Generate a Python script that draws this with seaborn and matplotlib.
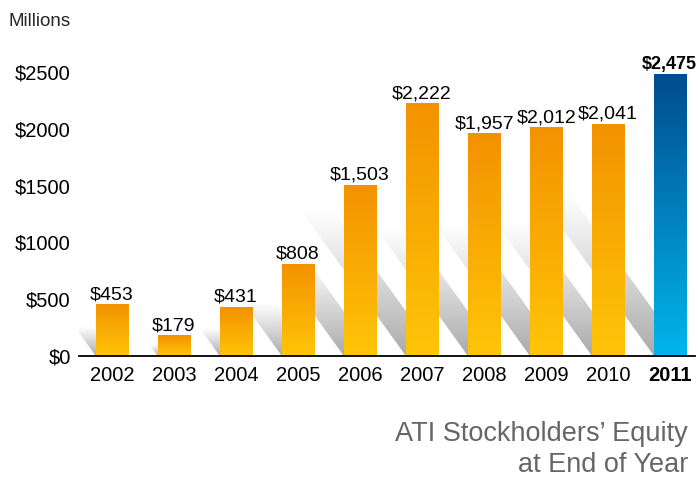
import numpy as np
import pandas as pd
import matplotlib
matplotlib.use("Agg")
import matplotlib.pyplot as plt
from matplotlib.colors import LinearSegmentedColormap
from matplotlib.patches import Polygon
import seaborn as sns

# ATI stockholders' equity, end of year, $ millions
years = ["2002", "2003", "2004", "2005", "2006", "2007", "2008", "2009", "2010", "2011"]
equity = [453, 179, 431, 808, 1503, 2222, 1957, 2012, 2041, 2475]
ytick_vals = [0, 500, 1000, 1500, 2000, 2500]
ytick_labels = ["$0", "$500", "$1000", "$1500", "$2000", "$2500"]

sns.set_style("white")
plt.rcParams['font.family'] = ['Liberation Sans', 'DejaVu Sans']

fig = plt.figure(figsize=(6.98, 4.78), dpi=100)
ax = fig.add_axes([79 / 698, 122 / 478, 616 / 698, 306.7 / 478])

df = pd.DataFrame({"year": years, "equity": equity})
sns.barplot(data=df, x="year", y="equity", ax=ax, color="#f7a800", width=0.52,
            errorbar=None, zorder=3)

orange = LinearSegmentedColormap.from_list("orange", ["#ffc508", "#f39200"])
blue = LinearSegmentedColormap.from_list("blue", ["#00b6ec", "#004c8e"])
grad = np.linspace(0, 1, 256).reshape(-1, 1)

# shadow slope: horizontal shift (bar units) per data unit of height
sx = 0.72 * (284 / 2500) / 62

bars = list(ax.patches)
n = len(bars)
for i, p in enumerate(bars):
    x0, w, h = p.get_x(), p.get_width(), p.get_height()
    p.set_facecolor("none")
    p.set_edgecolor("none")
    last = i == n - 1
    cm = blue if last else orange
    ax.imshow(grad, extent=[x0, x0 + w, 0, h], origin="lower", aspect="auto",
              cmap=cm, zorder=3)

    # grey slanted shadow behind the bar
    L = 0.58 * h
    shift = sx * L
    poly = Polygon([(x0, 0), (x0 + w, 0), (x0 + w - shift, L), (x0 - shift, L)],
                   closed=True, facecolor="none", edgecolor="none")
    ax.add_patch(poly)
    img = np.zeros((256, 1, 4))
    img[..., :3] = 0.6
    img[..., 3] = np.linspace(0.85, 0.0, 256).reshape(-1, 1) ** 1.1
    im = ax.imshow(img, extent=[x0 - shift, x0 + w, 0, L], origin="lower",
                   aspect="auto", zorder=1)
    im.set_clip_path(poly)

    ax.annotate(f"${equity[i]:,}", (x0 + w / 2, h), xytext=(-1 if last else 0, 1),
                textcoords="offset points", ha="center", va="bottom",
                fontsize=13 if last else 14,
                fontweight="bold" if last else "normal",
                color="black", zorder=4)

ax.set_xlim(-0.53, 9.4)
ax.set_ylim(0, 2700)
ax.set_yticks(ytick_vals)
ax.set_yticklabels(ytick_labels)
ax.set_xlabel("")
ax.set_ylabel("")
ax.tick_params(axis="both", length=0, labelsize=14.5, colors="black")
ax.tick_params(axis="x", pad=7)
ax.tick_params(axis="y", pad=6)
ax.get_xticklabels()[-1].set_fontweight("bold")

for s in ["top", "right", "left"]:
    ax.spines[s].set_visible(False)
ax.spines["bottom"].set_color("black")
ax.spines["bottom"].set_linewidth(1.3)
ax.spines["bottom"].set_zorder(5)

fig.text(9 / 698, 1 - 21 / 478, "Millions", fontsize=13.5, va="center", ha="left")
fig.text(688 / 698, 1 - 434 / 478, "ATI Stockholders\u2019 Equity", fontsize=19.5,
         color="#666666", ha="right", va="center")
fig.text(688 / 698, 1 - 465 / 478, "at End of Year", fontsize=19.5,
         color="#666666", ha="right", va="center")

fig.savefig("out.png", dpi=100)
